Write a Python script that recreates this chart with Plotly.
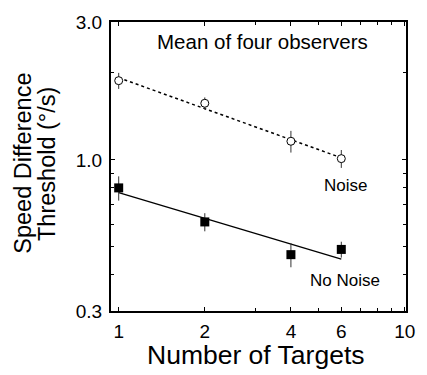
import numpy as np
import plotly.graph_objects as go

# Number of targets shown on each trial
targets = [1, 2, 4, 6]

# Speed difference thresholds (deg/s), mean of four observers
noise_thr = [1.88, 1.57, 1.16, 1.01]
noise_err = [0.12, 0.075, 0.10, 0.072]

nonoise_thr = [0.80, 0.61, 0.47, 0.49]
nonoise_err = [0.077, 0.044, 0.045, 0.031]

x_ticks = [1, 2, 4, 6, 10]
x_minor = [3, 5, 7, 8, 9]
y_ticks = [0.3, 1.0, 3.0]
y_ticklabels = ["0.3", "1.0", "3.0"]
y_minor = [0.4, 0.5, 0.6, 0.7, 0.8, 0.9, 2.0]

FONT = "Arial, Liberation Sans, Helvetica, sans-serif"


def power_fit(x, y):
    """Least-squares straight line in log-log coordinates."""
    lx, ly = np.log10(x), np.log10(y)
    slope, icpt = np.polyfit(lx, ly, 1)
    xs = np.array([min(x), max(x)], dtype=float)
    return xs, 10 ** (icpt + slope * np.log10(xs))


fig = go.Figure()

# Fitted lines
fx, fy = power_fit(targets, noise_thr)
fig.add_trace(go.Scatter(x=fx, y=fy, mode="lines",
                         line=dict(color="black", width=1.5, dash="dot"),
                         showlegend=False, hoverinfo="skip"))
fx, fy = power_fit(targets, nonoise_thr)
fig.add_trace(go.Scatter(x=fx, y=fy, mode="lines",
                         line=dict(color="black", width=1.3),
                         showlegend=False, hoverinfo="skip"))

# Data with error bars
fig.add_trace(go.Scatter(
    x=targets, y=noise_thr, mode="markers", name="Noise",
    marker=dict(symbol="circle", size=8, color="white",
                line=dict(color="black", width=1)),
    error_y=dict(type="data", array=noise_err, color="#333333",
                 thickness=1, width=0),
    showlegend=False))
fig.add_trace(go.Scatter(
    x=targets, y=nonoise_thr, mode="markers", name="No Noise",
    marker=dict(symbol="square", size=9, color="black",
                line=dict(color="black", width=0)),
    error_y=dict(type="data", array=nonoise_err, color="#333333",
                 thickness=1, width=0),
    showlegend=False))

axis_common = dict(
    showline=True, linecolor="black", linewidth=2, mirror="allticks",
    ticks="inside", ticklen=4, tickwidth=1, tickcolor="black",
    showgrid=False, zeroline=False,
    tickfont=dict(family=FONT, size=19, color="black"),
)

fig.update_xaxes(
    type="log", range=[np.log10(0.94), np.log10(10.1)],
    tickmode="array", tickvals=x_ticks, ticktext=[str(v) for v in x_ticks],
    minor=dict(tickmode="array", tickvals=x_minor, ticks="inside",
               ticklen=3, tickcolor="black", showgrid=False),
    ticklabelstandoff=2,
    **axis_common)
fig.update_yaxes(
    type="log", range=[np.log10(0.3), np.log10(3.0)],
    tickmode="array", tickvals=y_ticks, ticktext=y_ticklabels,
    minor=dict(tickmode="array", tickvals=y_minor, ticks="inside",
               ticklen=3, tickcolor="black", showgrid=False),
    ticklabelstandoff=3,
    **axis_common)

annotations = [
    dict(text="Mean of four observers", x=0.515, y=0.932, xref="paper",
         yref="paper", font=dict(size=20.5)),
    dict(text="Noise", x=np.log10(6.2), y=np.log10(0.815), xref="x", yref="y",
         font=dict(size=17)),
    dict(text="No Noise", x=np.log10(6.2), y=np.log10(0.384), xref="x",
         yref="y", font=dict(size=17)),
    dict(text="Number of Targets", x=0.49, y=-0.152, xref="paper",
         yref="paper", font=dict(size=26.5)),
    dict(text="Speed Difference", x=-0.298, y=0.51, xref="paper",
         yref="paper", textangle=-90, font=dict(size=23.5)),
    dict(text="Threshold (°/s)", x=-0.219, y=0.51, xref="paper",
         yref="paper", textangle=-90, font=dict(size=23.5)),
]
for a in annotations:
    a["showarrow"] = False
    a["xanchor"] = "center"
    a["yanchor"] = "middle"
    a["font"]["family"] = FONT
    a["font"]["color"] = "black"

fig.update_layout(
    width=427, height=375,
    margin=dict(l=111, r=15, t=15, b=64),
    paper_bgcolor="white", plot_bgcolor="white",
    annotations=annotations,
)

fig.write_html("out.html")
